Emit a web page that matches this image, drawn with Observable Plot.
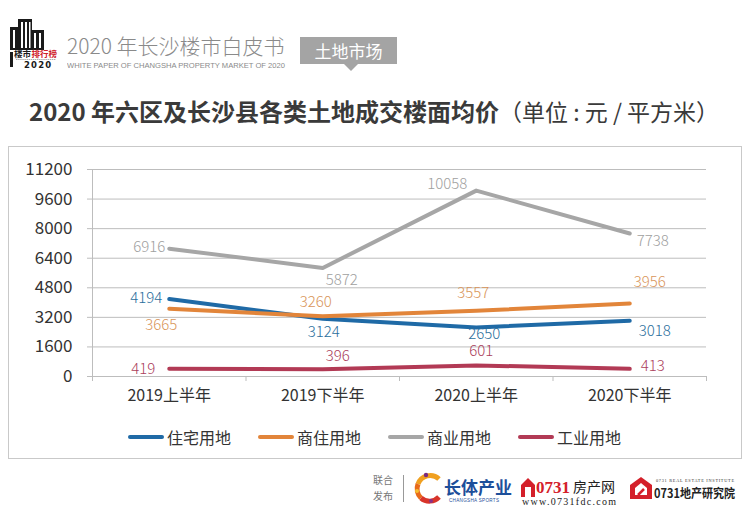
<!DOCTYPE html>
<html><head><meta charset="utf-8">
<script src="https://cdn.jsdelivr.net/npm/d3@7"></script>
<script src="https://cdn.jsdelivr.net/npm/@observablehq/plot@0.6"></script>
<style>
html,body{margin:0;padding:0;background:#fff;}
body{width:750px;height:517px;overflow:hidden;position:relative;font-family:"Noto Sans CJK SC",sans-serif;}
.abs{position:absolute;}
#hdr-title{left:67px;top:31px;font-size:21px;font-weight:300;color:#8a8a8a;white-space:nowrap;line-height:28px;}
#tag{left:300px;top:37px;width:97px;height:27px;background:#a4a4a4;color:#fff;font-size:17px;line-height:27px;text-align:center;}
#tagtri{left:344px;top:64px;width:0;height:0;border-left:7px solid transparent;border-right:7px solid transparent;border-top:7px solid #a4a4a4;}
#title{left:29px;top:94px;font-size:24px;color:#3a3a3a;white-space:nowrap;line-height:34px;}
#title b{font-weight:700;}
#title span{font-weight:400;font-size:23px;}
#box{left:8px;top:146px;width:732px;height:311px;border:1px solid #c9c9c9;}
#legend{left:128px;top:426px;height:22px;display:flex;align-items:center;font-size:16px;color:#333;white-space:nowrap;}
.lg{display:flex;align-items:center;margin-right:27px;}
.sw{width:36px;height:4px;border-radius:2px;margin-right:3px;}
</style></head><body>

<!-- header logo -->
<svg class="abs" style="left:0;top:0" width="62" height="80" viewBox="0 0 62 80">
  <rect x="10" y="27" width="10" height="23" fill="#1a1a1a"/>
  <rect x="18" y="19" width="14" height="31" fill="#1a1a1a"/>
  <rect x="31" y="30" width="13" height="20" fill="#1a1a1a"/>
  <g fill="#fff">
    <rect x="21" y="22" width="2" height="26"/><rect x="25" y="22" width="2" height="26"/><rect x="29" y="22" width="1.5" height="26"/>
    <rect x="13" y="30" width="2" height="18"/>
    <rect x="34" y="33" width="2" height="15"/><rect x="39" y="33" width="2" height="15"/>
  </g>
  <text x="14" y="57" font-size="8.5" font-weight="700" fill="#1a1a1a" font-family="Noto Sans CJK SC">楼市</text>
  <text x="31.5" y="57" font-size="8.5" font-weight="700" fill="#d0202a" font-family="Noto Sans CJK SC">排行榜</text>
  <rect x="10" y="52" width="3" height="15" fill="#1a1a1a"/>
  <line x1="16" y1="59.5" x2="56" y2="59.5" stroke="#999" stroke-width="0.8" stroke-dasharray="1.5 0.6"/>
  <text x="24" y="67.5" font-size="8.5" font-weight="700" fill="#1a1a1a" font-family="DejaVu Sans" letter-spacing="1.2">2020</text>
</svg>
<div id="hdr-title" class="abs">2020 年长沙楼市白皮书</div>
<svg class="abs" style="left:67px;top:60px" width="222" height="10">
  <text x="0" y="8" font-size="7.5" fill="#8a8a8a" font-family="Liberation Sans" textLength="218" lengthAdjust="spacingAndGlyphs">WHITE PAPER OF CHANGSHA PROPERTY MARKET OF 2020</text>
</svg>
<div id="tag" class="abs">土地市场</div>
<div id="tagtri" class="abs"></div>

<div id="title" class="abs"><b>2020 年六区及长沙县各类土地成交楼面均价</b><span>（单位 : 元 / 平方米）</span></div>

<div id="box" class="abs"></div>
<div id="legend" class="abs"></div>

<!-- footer -->
<svg class="abs" style="left:0;top:465px" width="750" height="52" viewBox="0 465 750 52">
  <text x="373" y="484" font-size="10" fill="#777" font-family="Noto Sans CJK SC">联合</text>
  <text x="373" y="500" font-size="10" fill="#777" font-family="Noto Sans CJK SC">发布</text>
  <line x1="403.5" y1="475" x2="403.5" y2="502" stroke="#999" stroke-width="1"/>
  <!-- 长体产业 -->
  <g transform="translate(430,488)">
    <path d="M9,-9 A13,13 0 0 0 -12,-4" stroke="#f0a020" stroke-width="5" fill="none"/>
    <path d="M-12,-4 A13,13 0 0 0 -9,10" stroke="#e86a1a" stroke-width="5" fill="none"/>
    <path d="M-9,10 A13,13 0 0 0 9,9" stroke="#d8342a" stroke-width="5" fill="none"/>
    <circle cx="-4" cy="-13" r="2.2" fill="#7a2a80"/><circle cx="-13" cy="3" r="2" fill="#f5c030"/>
    <circle cx="1" cy="13" r="2" fill="#8a3088"/>
  </g>
  <text x="444" y="494" font-size="17" font-weight="700" fill="#1d4f9a" font-family="Noto Sans CJK SC">长体产业</text>
  <text x="449" y="502" font-size="4.6" fill="#1d4f9a" font-family="Liberation Sans" textLength="50">CHANGSHA SPORTS</text>
  <!-- 0731房产网 -->
  <g transform="translate(521,477)">
    <path d="M0,8 L7,1 L14,8 L14,20 L0,20 Z" fill="#d4202a"/>
    <rect x="4" y="10" width="6" height="10" fill="#fff"/>
  </g>
  <text x="536" y="493" font-size="17" font-weight="700" fill="#d4202a" font-family="Liberation Serif">0731</text>
  <text x="573" y="492" font-size="14" fill="#222" font-family="Noto Sans CJK SC">房产网</text>
  <text x="522" y="505" font-size="10" fill="#222" font-family="Liberation Serif" textLength="94">www.0731fdc.com</text>
  <!-- 0731地产研究院 -->
  <g transform="translate(630,477)">
    <path d="M0,8 L11,0 L22,8 L22,22 L0,22 Z" fill="#d4202a"/>
    <path d="M5,11 L11,6 L17,11 L17,18 L5,18 Z" fill="#fff"/>
    <path d="M8,18 L14,12" stroke="#d4202a" stroke-width="2.5"/>
  </g>
  <text x="656" y="482" font-size="4.3" fill="#333" font-family="Liberation Serif" textLength="78">0731 REAL ESTATE INSTITUTE</text>
  <text x="654" y="498" font-size="12.5" font-weight="700" fill="#222" font-family="Noto Sans CJK SC" textLength="81" lengthAdjust="spacingAndGlyphs">0731地产研究院</text>
</svg>

<script>
// ---------- data ----------
const periods = ["2019上半年", "2019下半年", "2020上半年", "2020下半年"];
const seriesNames = ["住宅用地", "商住用地", "商业用地", "工业用地"];
const zhuzhai  = [4194, 3124, 2650, 3018];   // 住宅用地
const shangzhu = [3665, 3260, 3557, 3956];   // 商住用地
const shangye  = [6916, 5872, 10058, 7738];  // 商业用地
const gongye   = [419, 396, 601, 413];       // 工业用地
const yTicks = [0, 1600, 3200, 4800, 6400, 8000, 9600, 11200];

// ---------- styles ----------
const lineColors  = ["#1f6aa6", "#e2853a", "#a6a6a6", "#b23a55"];
const labelColors = ["#2a6e9c", "#d9955a", "#a0a0a0", "#ab405c"];
// label offsets [dx, dy] relative to each point
const labelOffsets = [
  [[-23, -1], [1, 13], [8, 7], [25, 10]],
  [[-8, 16], [-7, -14], [-3, -18], [20, -21]],
  [[-20, -1], [19, 12], [-29, -6], [23, 8]],
  [[-26, 0], [15, -13], [5, -14], [23, -3]]
];

const seriesValues = [zhuzhai, shangzhu, shangye, gongye];
const rows = seriesNames.flatMap((s, si) =>
  seriesValues[si].map((v, i) => ({series: s, si, idx: i, value: v})));

const boundaries = [-0.5, 0.5, 1.5, 2.5, 3.5];
const numFont = '"Liberation Sans Narrow", "Noto Sans CJK SC", sans-serif';
const lblFont = '"Noto Sans CJK SC", sans-serif';

const textMarks = rows.map(r => Plot.text([r], {
  x: "idx", y: "value", text: d => String(d.value),
  dx: labelOffsets[r.si][r.idx][0], dy: labelOffsets[r.si][r.idx][1],
  fill: labelColors[r.si], fontSize: 15, fontWeight: 300, fontFamily: lblFont,
  textAnchor: "middle"
}));

const chart = Plot.plot({
  width: 732,
  height: 270,
  marginLeft: 83,
  marginRight: 35,
  marginTop: 22,
  marginBottom: 41,
  style: {fontFamily: numFont, color: "#333", background: "transparent", overflow: "visible"},
  x: {type: "linear", domain: [-0.5, 3.5]},
  y: {domain: [0, 11200]},
  color: {domain: seriesNames, range: lineColors},
  marks: [
    Plot.gridY(yTicks, {stroke: "#bdbdbd", strokeOpacity: 1}),
    Plot.ruleX([-0.5], {stroke: "#bdbdbd"}),
    Plot.axisY(yTicks, {tickSize: 5, tickPadding: 15, stroke: "#bdbdbd", fill: "#333",
      fontSize: 17, fontFamily: numFont, tickFormat: d => String(d), label: null}),
    Plot.axisX(boundaries, {tickSize: 5, stroke: "#bdbdbd", tickFormat: () => "", label: null}),
    Plot.axisX([0, 1, 2, 3], {tickSize: 0, tickPadding: 13, fill: "#333", fontSize: 16,
      fontFamily: numFont, tickFormat: i => periods[i], label: null}),
    Plot.line(rows, {x: "idx", y: "value", z: "series", stroke: "series",
      strokeWidth: 4, strokeLinecap: "round", strokeLinejoin: "round"}),
    ...textMarks
  ]
});
document.getElementById("box").appendChild(chart);
chart.style.position = "absolute";
chart.style.left = "0px";
chart.style.top = "0px";

// legend
const lg = document.getElementById("legend");
seriesNames.forEach((s, i) => {
  const item = document.createElement("div");
  item.className = "lg";
  item.innerHTML = `<div class="sw" style="background:${lineColors[i]}"></div><span>${s}</span>`;
  lg.appendChild(item);
});
</script>
</body></html>
